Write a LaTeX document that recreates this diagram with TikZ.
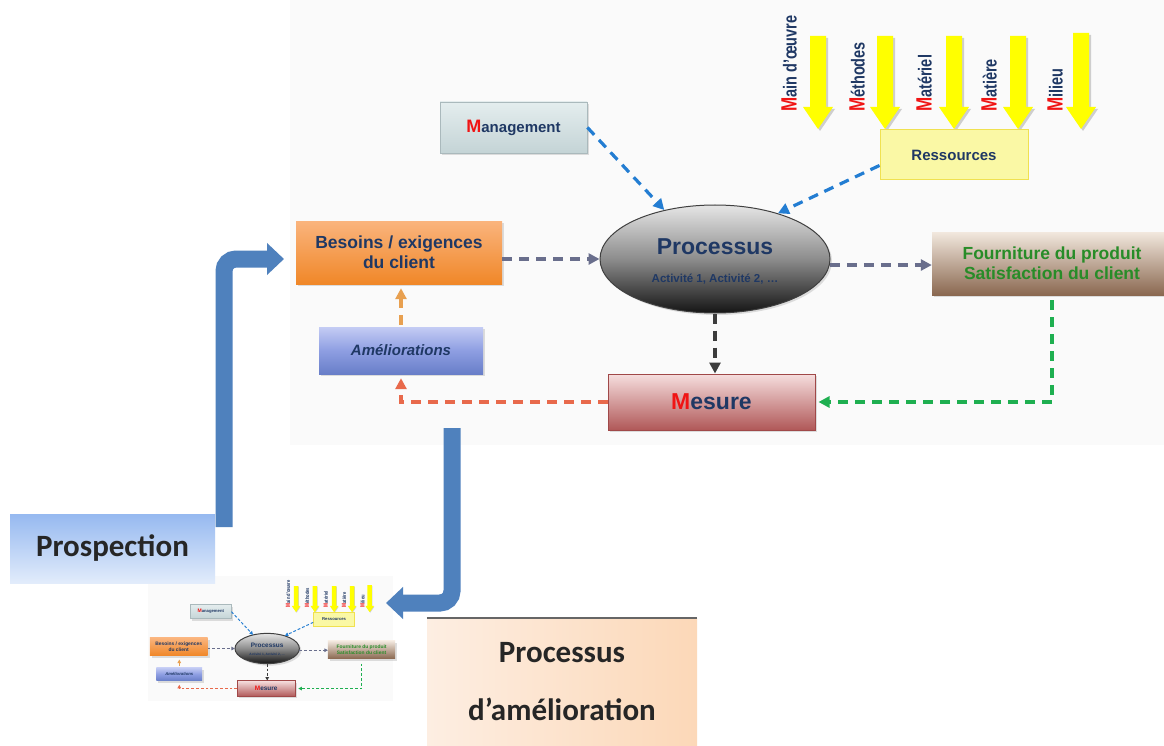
\documentclass[tikz,border=0pt]{standalone}
\usepackage{fontspec}
\setmainfont{Liberation Sans}
\newfontfamily\calfont{Carlito}
\usetikzlibrary{arrows.meta,shapes.geometric,shadows}

\definecolor{tblue}{RGB}{31,56,100}
\definecolor{mred}{RGB}{240,20,20}
\definecolor{bigblue}{RGB}{79,129,189}
\definecolor{dblue}{RGB}{35,125,210}
\definecolor{dslate}{RGB}{105,110,140}
\definecolor{ddark}{RGB}{60,60,60}
\definecolor{dgreen}{RGB}{30,175,80}
\definecolor{dred}{RGB}{232,105,75}
\definecolor{dorange}{RGB}{232,160,80}
\definecolor{fgreen}{RGB}{40,140,40}
\definecolor{ayellow}{RGB}{255,255,0}
\definecolor{mgtop}{RGB}{228,237,238}
\definecolor{mgbot}{RGB}{196,212,214}
\definecolor{mgbd}{RGB}{170,185,188}
\definecolor{resfill}{RGB}{250,248,165}
\definecolor{resdraw}{RGB}{240,225,80}
\definecolor{btop}{RGB}{250,180,125}
\definecolor{bbot}{RGB}{240,135,40}
\definecolor{ftop}{RGB}{242,232,222}
\definecolor{fbot}{RGB}{138,104,80}
\definecolor{atop}{RGB}{196,204,244}
\definecolor{amid}{RGB}{142,158,226}
\definecolor{abot}{RGB}{104,126,200}
\definecolor{mtop}{RGB}{246,222,222}
\definecolor{mbot}{RGB}{176,88,88}
\definecolor{mbd}{RGB}{160,72,72}
\definecolor{ptop}{RGB}{150,185,240}
\definecolor{pbot}{RGB}{226,236,251}
\definecolor{pal}{RGB}{253,238,226}
\definecolor{par}{RGB}{252,216,184}

\tikzset{
  box/.style={rectangle, inner sep=0pt, align=center, text=tblue},
  ylab/.style={rotate=90, anchor=west, inner sep=0pt, text=tblue,
    font=\bfseries\fontsize{14.5}{15}\selectfont},
  dl/.style={line width=\lw, dash pattern=on \don off \doff,
    -{Triangle[length=\al,width=\aw]}},
  shad/.style={drop shadow={opacity=0.25, shadow xshift=2pt, shadow yshift=-2pt}},
  bigarrow/.style={line width=17pt, draw=bigblue, rounded corners=12pt,
    -{Triangle[length=17pt,width=31pt]}},
}
\newcommand{\ylabtext}[1]{\scalebox{1}[1.3]{{\fontsize{17}{17}\selectfont\textcolor{mred}{M}}#1}}

\newcommand{\procdiagram}{%
  \fill[black!2] (290,0) rectangle (1164,445);
  \foreach \cx/\ty in {818/36,885/36,954/36,1018/36,1081/33}{
    \fill[black!40,opacity=.45] (\cx-6,\ty+2) -- (\cx+10,\ty+2) -- (\cx+10,109)
      -- (\cx+17,109) -- (\cx+2,131) -- (\cx-13,109) -- (\cx-6,109) -- cycle;
    \fill[ayellow] (\cx-8,\ty) -- (\cx+8,\ty) -- (\cx+8,107) -- (\cx+15,107)
      -- (\cx,129) -- (\cx-15,107) -- (\cx-8,107) -- cycle;
  }
  \node[ylab] (lab1) at (789,112) {\ylabtext{ain d’œuvre}};
  \node[ylab] (lab2) at (857,112) {\ylabtext{éthodes}};
  \node[ylab] (lab3) at (924,112) {\ylabtext{atériel}};
  \node[ylab] (lab4) at (989,112) {\ylabtext{atière}};
  \node[ylab] (lab5) at (1055,112) {\ylabtext{ilieu}};
  \node[box, shad, minimum width=147pt, minimum height=51pt, top color=mgtop,
    bottom color=mgbot, draw=mgbd, line width=0.8pt,
    font=\bfseries\fontsize{15}{18}\selectfont] (mgmt) at (513.5,127.5)
    {{\fontsize{18}{18}\selectfont\textcolor{mred}{M}}anagement};
  \node[box, minimum width=148pt, minimum height=50pt, fill=resfill, draw=resdraw,
    line width=1pt, font=\bfseries\fontsize{15}{18}\selectfont] (res) at (954,155) {Ressources};
  \node[box, shad, minimum width=206pt, minimum height=63pt, top color=btop,
    bottom color=bbot, font=\bfseries\fontsize{17.5}{20}\selectfont] (bes) at (399,252.5)
    {Besoins / exigences\\du client};
  \node[ellipse, shad, minimum width=230pt, minimum height=108pt, inner sep=0pt,
    draw=black!75, line width=1pt, top color=black!10, bottom color=black!92,
    middle color=black!45] (proc) at (715,259) {};
  \node[text=tblue, inner sep=0pt, font=\bfseries\fontsize{23}{23}\selectfont] (procT)
    at (715,247) {Processus};
  \node[text=tblue, inner sep=0pt, font=\bfseries\fontsize{11.5}{12}\selectfont] (procA)
    at (715,279) {Activité 1, Activité 2, …};
  \node[box, shad, minimum width=240pt, minimum height=63pt, top color=ftop,
    bottom color=fbot, text=fgreen, font=\bfseries\fontsize{17.5}{20}\selectfont]
    (four) at (1052,263.5) {Fourniture du produit\\Satisfaction du client};
  \node[box, shad, minimum width=164pt, minimum height=47pt, top color=atop,
    bottom color=abot, middle color=amid,
    font=\bfseries\itshape\fontsize{15}{18}\selectfont] (ame) at (401,350.5) {Améliorations};
  \node[box, shad, minimum width=207pt, minimum height=56pt, top color=mtop,
    bottom color=mbot, draw=mbd, line width=1pt,
    font=\bfseries\fontsize{23}{23}\selectfont] (mes) at (711.5,402)
    {\textcolor{mred}{M}esure};
  \draw[dl, dblue] (mgmt.east) -- (proc.136);
  \draw[dl, dblue] (res.188) -- (proc.36);
  \draw[dl, dslate] (bes.east |- proc.west) -- (proc.west);
  \draw[dl, dslate] (proc.-3) -- (proc.-3 -| four.west);
  \draw[dl, ddark] (proc.south) -- (proc.south |- mes.north);
  \draw[dl, dgreen, shorten <=5pt, shorten >=3pt] (four.south) -- (four.south |- mes.east) -- (mes.east);
  \draw[dl, dred, shorten >=4pt] (mes.west) -- (mes.west -| ame.south) -- (ame.south);
  \draw[dl, dorange, shorten <=2pt, shorten >=4pt] (ame.north) -- (ame.north |- bes.south);
}

\begin{document}
\begin{tikzpicture}[x=1pt,y=-1pt]
  \useasboundingbox (0,0) rectangle (1164,746);
  \fill[white] (0,0) rectangle (1164,746);
  \def\lw{3.2pt}\def\don{10pt}\def\doff{7pt}\def\al{11pt}\def\aw{11pt}
  \procdiagram
  \begin{scope}[shift={(67,576)}, scale=0.28, transform shape, name prefix=t-]
    \def\lw{1pt}\def\don{2.8pt}\def\doff{2pt}\def\al{3.5pt}\def\aw{3.5pt}
    \procdiagram
  \end{scope}
  % bottom boxes
  \node[rectangle, minimum width=205pt, minimum height=69pt, inner sep=0pt,
    top color=ptop, bottom color=pbot, text=black!85,
    font=\calfont\bfseries\fontsize{31}{31}\selectfont] (pros) at (112.5,548.5) {Prospection};
  \node[rectangle, minimum width=270pt, minimum height=128pt, inner sep=0pt,
    left color=pal, right color=par, align=center, text=black!85,
    font=\calfont\bfseries\fontsize{31}{58}\selectfont] (pam) at (562,682)
    {Processus\\d’amélioration};
  \draw[line width=1.5pt, draw=black!60] (pam.north west) -- (pam.north east);
  % big blue arrows
  \coordinate (pa) at (224,527);
  \coordinate (pb) at (284,259);
  \coordinate (pc) at (452,428);
  \coordinate (pd) at (386,603);
  \draw[bigarrow] (pa) |- (pb);
  \draw[bigarrow] (pc) |- (pd);
\end{tikzpicture}
\end{document}
